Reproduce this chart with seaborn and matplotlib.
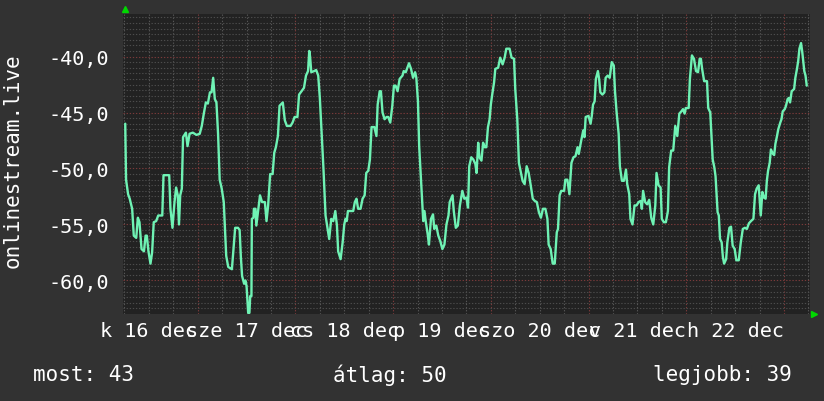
import numpy as np
import seaborn as sns
import matplotlib
matplotlib.use("Agg")
import matplotlib.pyplot as plt

# ido (ora, dec 16 00:00-tol) es ertek
hours = [
    6.2, 6.4, 6.9, 7.3, 7.9, 8.3, 8.9, 9.3, 9.7, 10.2, 10.8, 11.2, 11.5, 11.9, 12.4,
    12.8, 13.2, 13.8, 14.3, 15.3, 15.6, 17.0, 17.3, 17.8, 18.3, 18.7, 19.1, 19.4, 19.7,
    20.1, 20.4, 21.1, 21.5, 22.0, 22.8, 23.7, 24.5, 25.0, 25.5, 26.0, 26.5, 27.0, 27.4,
    27.8, 28.2, 28.6, 29.0, 29.4, 29.9, 30.4, 30.7, 31.0, 31.5, 32.4, 32.8, 33.2, 33.9,
    # dec 17
    34.3, 34.6, 34.9, 35.4, 35.7, 36.0, 36.4, 36.7, 36.9, 37.2, 37.3, 37.7, 37.8, 38.2,
    38.4, 38.8, 39.3, 39.8, 40.5, 40.9, 41.3, 41.8, 42.4, 42.8, 43.2, 43.7, 44.1, 44.9,
    45.4, 45.9, 46.8, 47.3, 47.8, 48.5, 48.9, 49.5, 50.1, 50.6, 51.1, 51.4, 51.6, 51.9,
    52.6, 53.1, 53.6, 54.0, 54.4, 54.9, 55.4, 55.9, 56.3, 56.8, 57.3, 57.8, 58.2, 58.5,
    59.1, 59.6, 60.0, 60.3, 60.6, 60.9, 61.8,
    # dec 18
    62.2, 62.6, 63.0, 63.4, 64.0, 64.5, 65.0, 65.4, 65.9, 66.3, 66.7, 67.4, 67.9, 68.2,
    68.7, 69.0, 69.4, 69.9, 70.4, 70.8, 71.3, 71.8, 72.2, 72.6, 73.1, 73.6, 74.3, 74.6,
    75.1, 75.9, 76.4, 76.9, 77.4, 77.7, 78.1, 78.4, 78.9, 79.4, 79.7, 80.0, 80.5, 80.8,
    81.3, 81.8, 82.1, 82.6, 83.1, 83.6, 84.1, 84.6, 85.1, 85.6, 85.9, 86.6, 86.9, 87.4,
    87.9, 88.4, 89.0, 89.5, 90.0, 90.4,
    # dec 19-20
    90.7, 91.2, 91.7, 92.2, 92.5, 92.9, 93.2, 93.7, 94.1, 94.5, 94.9, 95.3, 95.7, 96.0,
    96.3, 96.8, 97.1, 97.8, 98.3, 98.9, 99.4, 99.8, 100.6, 101.1, 101.7, 102.0, 102.5,
    102.9, 103.4, 103.8, 104.3, 104.8, 105.3, 105.8, 106.3, 106.8, 107.3, 107.8, 108.3,
    108.8, 109.4, 109.9, 110.2, 110.7, 111.2, 111.7, 112.2, 112.5, 112.9, 113.3, 114.0,
    114.3, 114.8, 115.3, 115.8, 116.3, 116.8, 117.3, 117.6, 118.1, 118.7,
    # dec 21
    119.0, 119.3, 120.0, 120.5, 120.8, 121.1, 121.5, 121.8, 122.3, 122.6, 122.9, 123.4,
    123.9, 124.2, 124.7, 125.2, 125.7, 126.2, 126.5, 126.9, 127.4, 127.7, 128.2, 128.7,
    129.2, 129.5, 130.0, 130.3, 130.8, 131.3, 131.8, 132.3, 132.8, 133.1, 133.4, 133.9,
    134.4, 134.9, 135.4, 135.9, 136.4, 136.7, 137.2, 137.7, 138.0, 138.5, 139.0, 139.5,
    139.8, 140.3, 140.8, 141.3, 141.8, 142.3, 142.8, 143.2, 143.6, 143.9, 144.6, 144.9,
    145.4, 145.9, 146.4, 146.9,
    # dec 22-23
    147.3, 147.6, 147.9, 148.4, 149.1, 149.4, 149.9, 150.2, 150.5, 150.9, 151.2, 151.7,
    152.0, 152.3, 152.7, 153.0, 153.3, 153.8, 154.1, 154.6, 155.0, 155.4, 155.9, 156.3,
    156.9, 157.4, 157.9, 158.4, 158.9, 159.4, 159.9, 160.5, 160.9, 161.3, 161.8, 162.3,
    162.7, 163.1, 163.5, 163.8, 164.1, 164.5, 164.8, 165.3, 165.6, 165.9, 166.3, 166.6,
    167.1, 167.4, 167.7, 168.2, 168.5, 168.9, 169.2, 169.5, 169.9, 170.5, 170.8, 171.2,
    171.5, 171.8, 172.2, 172.5, 173.0, 173.3, 173.6,
]

values = [
    -46.0, -51.0, -52.3, -52.7, -53.6, -56.0, -56.2, -54.4, -54.8, -57.2, -57.4, -56.0,
    -56.0, -57.4, -58.5, -57.5, -54.8, -54.7, -54.2, -54.2, -50.6, -50.6, -53.6, -55.3,
    -53.0, -51.7, -52.4, -55.0, -52.4, -51.8, -47.2, -46.8, -48.0, -46.9, -46.8, -47.0,
    -46.9, -46.2, -45.1, -44.1, -44.2, -43.2, -43.2, -41.9, -43.8, -44.1, -46.9, -51.0,
    -51.8, -53.0, -55.4, -57.8, -58.8, -59.0, -57.2, -55.3, -55.3,
    # dec 17
    -55.5, -57.9, -59.6, -60.3, -60.0, -60.5, -62.9, -62.9, -61.4, -61.4, -54.5, -54.4,
    -53.6, -53.6, -55.1, -53.9, -52.4, -53.0, -53.0, -54.7, -53.3, -50.5, -50.5, -48.6,
    -48.1, -47.1, -44.4, -44.1, -45.7, -46.2, -46.2, -45.9, -45.4, -45.4, -43.4, -43.1,
    -42.8, -41.7, -41.3, -39.5, -40.0, -41.4, -41.3, -41.2, -41.7, -43.7, -46.6, -50.1,
    -54.2, -55.4, -56.3, -54.5, -54.7, -53.8, -55.1, -57.4, -58.1, -56.6, -55.0, -54.5,
    -54.7, -53.8, -53.8,
    # dec 18
    -53.8, -53.0, -52.7, -53.6, -53.6, -52.7, -52.4, -50.4, -50.2, -49.2, -46.3, -46.3,
    -47.1, -44.3, -43.1, -43.1, -45.0, -45.6, -45.4, -45.4, -45.9, -44.4, -42.6, -42.6,
    -43.1, -42.0, -41.7, -41.3, -41.4, -40.6, -41.1, -41.9, -41.4, -41.9, -44.0, -48.0,
    -51.4, -54.7, -53.8, -54.7, -55.9, -56.8, -54.5, -54.1, -55.4, -55.1, -56.0, -56.5,
    -57.2, -56.8, -55.0, -54.2, -53.0, -52.4, -53.8, -55.3, -55.1, -53.3, -52.0, -52.7,
    -52.6, -53.5,
    # dec 19-20
    -49.8, -49.0, -49.2, -49.6, -50.4, -47.7, -49.0, -49.3, -47.7, -48.1, -48.1, -46.3,
    -45.6, -44.3, -43.5, -42.3, -41.1, -41.0, -40.1, -40.7, -40.1, -39.3, -39.3, -40.1,
    -40.2, -42.9, -45.6, -49.5, -50.4, -51.1, -51.4, -49.8, -50.4, -51.5, -52.7, -52.9,
    -53.0, -53.9, -54.4, -53.6, -53.6, -54.5, -56.8, -57.2, -58.5, -58.5, -55.7, -55.4,
    -52.4, -52.0, -52.0, -51.0, -51.0, -52.3, -49.5, -49.0, -48.9, -48.1, -48.7, -47.7,
    -46.6,
    # dec 21
    -47.2, -45.4, -45.3, -46.0, -45.3, -44.3, -44.0, -42.0, -41.3, -42.0, -43.2, -43.4,
    -43.2, -41.9, -41.7, -41.9, -40.5, -40.8, -43.1, -45.0, -46.9, -49.8, -51.1, -51.1,
    -50.1, -51.4, -52.3, -54.5, -55.0, -53.3, -53.3, -53.0, -52.9, -53.6, -52.0, -53.0,
    -53.2, -52.8, -54.4, -55.0, -53.3, -50.4, -51.5, -51.7, -54.5, -54.8, -54.8, -53.8,
    -49.9, -48.4, -48.4, -46.2, -47.1, -45.1, -44.9, -44.7, -45.1, -44.6, -44.6, -42.0,
    -39.9, -40.2, -41.3, -41.4,
    # dec 22-23
    -40.2, -40.2, -41.1, -42.2, -42.2, -44.6, -45.0, -47.1, -49.2, -49.9, -50.7, -53.9,
    -54.2, -56.3, -56.6, -57.9, -58.5, -58.1, -56.6, -55.3, -55.2, -56.9, -57.2, -58.2,
    -58.2, -56.6, -55.4, -55.3, -55.4, -54.9, -54.7, -54.5, -52.3, -51.8, -51.5, -54.2,
    -52.1, -52.6, -52.7, -51.1, -50.2, -49.5, -48.3, -48.7, -48.8, -47.8, -47.1, -46.5,
    -45.9, -45.6, -44.9, -44.7, -44.4, -43.8, -43.7, -44.1, -43.1, -42.9, -41.9, -41.1,
    -40.4, -39.3, -38.8, -39.6, -41.3, -41.7, -42.6,
]

day_labels = ["k 16 dec", "sze 17 dec", "cs 18 dec", "p 19 dec",
              "szo 20 dec", "v 21 dec", "h 22 dec"]
day_centers = [12, 36, 60, 84, 108, 132, 156]
y_ticks = [-60, -55, -50, -45, -40]

sns.set_theme(style="dark")
plt.rcParams["font.family"] = ["DejaVu Sans Mono", "DejaVu Sans"]

fig = plt.figure(figsize=(8.24, 4.02), dpi=100)
fig.patch.set_facecolor("#323232")
ax = fig.add_axes([123 / 824, 1 - 315 / 402, 687 / 824, 300 / 402])
ax.set_facecolor("#222222")

xmin, xmax = 5.65, 174.4
ymin, ymax = -63.0, -36.2

# racs: 6 oras / napi, 0.5 / 5 egyseg
dots = (0, (1.2, 1.6))
for h in np.arange(6, xmax, 6):
    major = h % 24 == 0
    ax.axvline(h, color="#7a3a3a" if major else "#555555", lw=0.8, ls=dots, zorder=1)
for v in np.arange(-62.5, ymax, 0.5):
    major = v % 5 == 0
    ax.axhline(v, color="#7a3a3a" if major else "#4c4c4c", lw=0.8, ls=dots, zorder=1)

sns.lineplot(x=hours, y=values, sort=False, estimator=None, color="#6ff2b4",
             linewidth=1.7, ax=ax, zorder=3)

ax.set_xlim(xmin, xmax)
ax.set_ylim(ymin, ymax)
ax.set_xticks(day_centers)
ax.set_xticklabels(day_labels)
ax.set_yticks(y_ticks)
ax.set_yticklabels([f"{t:.1f}".replace(".", ",") for t in y_ticks])
ax.tick_params(axis="both", length=0, colors="white", labelsize=14.5)
ax.tick_params(axis="x", pad=5)
ax.tick_params(axis="y", pad=10)
ax.grid(False)
for s in ax.spines.values():
    s.set_visible(False)

# nyilak
fig.text(125 / 824, 1 - 10 / 402, "", )
ax.plot([0.003], [1.017], marker="^", color="#00d800", markersize=5,
        transform=ax.transAxes, clip_on=False)
ax.plot([1.006], [0.0], marker=">", color="#00d800", markersize=5,
        transform=ax.transAxes, clip_on=False)

fig.text(13 / 824, 1 - 161 / 402, "onlinestream.live", rotation=90,
         ha="center", va="center", color="white", fontsize=15)

fig.text(33 / 824, 1 - 375 / 402, "most: 43", color="white", fontsize=15, va="center")
fig.text(333 / 824, 1 - 375 / 402, "átlag: 50", color="white", fontsize=15, va="center")
fig.text(792 / 824, 1 - 375 / 402, "legjobb: 39", color="white", fontsize=15,
         va="center", ha="right")

fig.savefig("out.png", dpi=100, facecolor=fig.get_facecolor())
